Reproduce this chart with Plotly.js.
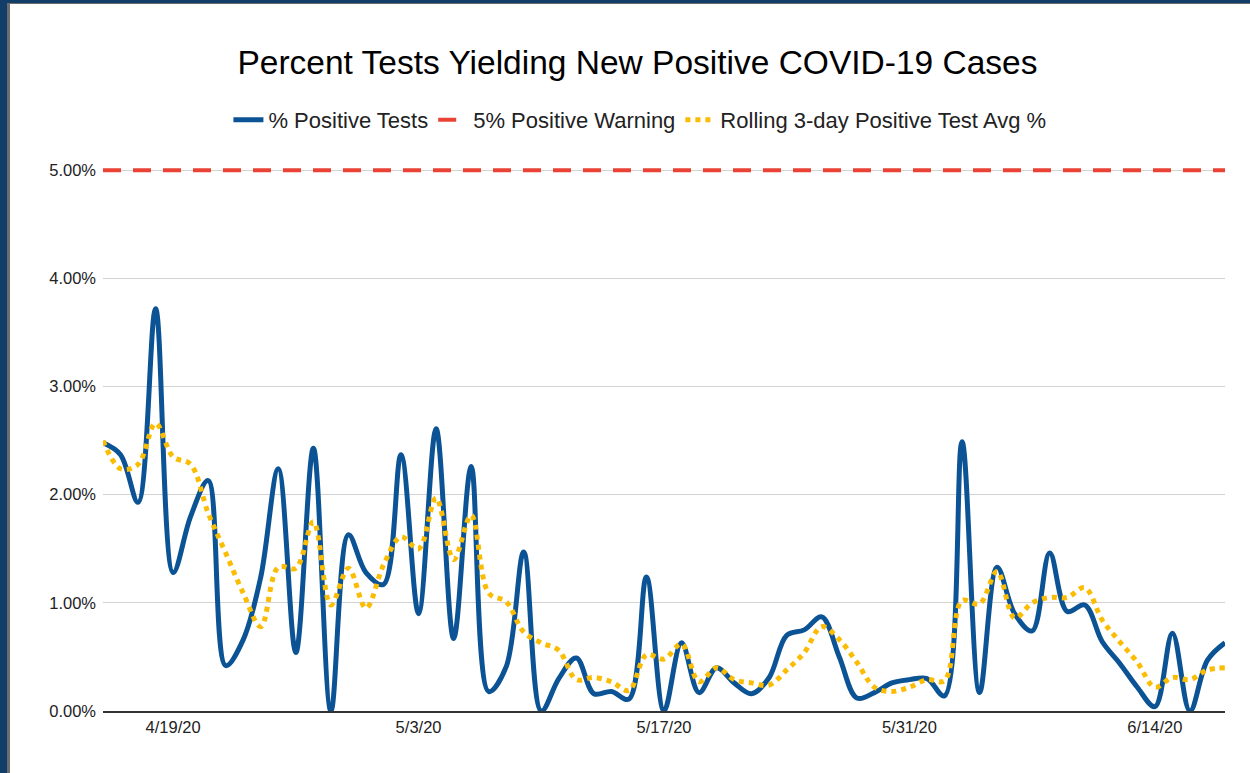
<!DOCTYPE html>
<html>
<head>
<meta charset="utf-8">
<script src="https://cdn.plot.ly/plotly-3.0.1.min.js"></script>
<style>
  html, body { margin: 0; padding: 0; background: #ffffff; }
  #frame { width: 1243px; height: 770px; border-left: 7px solid #123d68; border-top: 3px solid #123d68; }
  #chart { width: 1240px; height: 769px; border-left: 3px solid #6d6d6d; border-top: 1px solid #6d6d6d; }
</style>
</head>
<body>
<div id="frame"><div id="chart"></div></div>
<script>
// one point per day, 4/15/20 .. 6/18/20
let dates = [
  '2020-04-15','2020-04-16','2020-04-17','2020-04-18','2020-04-19','2020-04-20','2020-04-21','2020-04-22',
  '2020-04-23','2020-04-24','2020-04-25','2020-04-26','2020-04-27','2020-04-28','2020-04-29','2020-04-30',
  '2020-05-01','2020-05-02','2020-05-03','2020-05-04','2020-05-05','2020-05-06','2020-05-07','2020-05-08',
  '2020-05-09','2020-05-10','2020-05-11','2020-05-12','2020-05-13','2020-05-14','2020-05-15','2020-05-16',
  '2020-05-17','2020-05-18','2020-05-19','2020-05-20','2020-05-21','2020-05-22','2020-05-23','2020-05-24',
  '2020-05-25','2020-05-26','2020-05-27','2020-05-28','2020-05-29','2020-05-30','2020-05-31','2020-06-01',
  '2020-06-02','2020-06-03','2020-06-04','2020-06-05','2020-06-06','2020-06-07','2020-06-08','2020-06-09',
  '2020-06-10','2020-06-11','2020-06-12','2020-06-13','2020-06-14','2020-06-15','2020-06-16','2020-06-17',
  '2020-06-18'
];

// % positive tests per day
let pctPositive = [
  2.48, 2.37, 1.93, 3.72, 1.28, 1.80, 2.13, 0.42, 0.66, 1.24, 2.24, 0.54, 2.43, 0.00, 1.63, 1.28,
  1.17, 2.37, 0.90, 2.61, 0.67, 2.26, 0.18, 0.41, 1.47, 0.00, 0.30, 0.49, 0.16, 0.18, 0.11, 1.24,
  0.00, 0.63, 0.17, 0.40, 0.26, 0.16, 0.31, 0.70, 0.75, 0.87, 0.50, 0.12, 0.17, 0.26, 0.29, 0.30,
  0.14, 2.49, 0.17, 1.33, 0.90, 0.74, 1.46, 0.92, 0.98, 0.64, 0.44, 0.22, 0.04, 0.72, 0.00, 0.47,
  0.63
];

// rolling 3-day average %
let rollingAvg = [
  2.50, 2.24, 2.28, 2.66, 2.35, 2.28, 1.83, 1.46, 1.09, 0.78, 1.33, 1.32, 1.75, 0.98, 1.32, 0.95,
  1.35, 1.61, 1.50, 1.97, 1.40, 1.81, 1.09, 1.01, 0.73, 0.63, 0.56, 0.29, 0.31, 0.27, 0.19, 0.52,
  0.48, 0.62, 0.27, 0.40, 0.29, 0.26, 0.24, 0.38, 0.54, 0.78, 0.66, 0.45, 0.22, 0.18, 0.22, 0.29,
  0.28, 1.02, 0.99, 1.29, 0.86, 1.00, 1.05, 1.05, 1.14, 0.84, 0.64, 0.45, 0.22, 0.31, 0.29, 0.38,
  0.40
];

let warningLevel = 5;

let tickDates = ['2020-04-19', '2020-05-03', '2020-05-17', '2020-05-31', '2020-06-14'];
let tickLabels = ['4/19/20', '5/3/20', '5/17/20', '5/31/20', '6/14/20'];
let yTicks = [0, 1, 2, 3, 4, 5];
let yTickLabels = ['0.00%', '1.00%', '2.00%', '3.00%', '4.00%', '5.00%'];

let font = 'Arial, "Liberation Sans", sans-serif';

let positiveTrace = {
  x: dates,
  y: pctPositive,
  name: '% Positive Tests',
  mode: 'lines',
  type: 'scatter',
  line: { color: '#0b5394', width: 5, shape: 'spline', smoothing: 1 }
};

let warningTrace = {
  x: [dates[0], dates[dates.length - 1]],
  y: [warningLevel, warningLevel],
  name: '5% Positive Warning',
  mode: 'lines',
  type: 'scatter',
  line: { color: '#ea4335', width: 4, dash: '18px,12px' }
};

let rollingTrace = {
  x: dates,
  y: rollingAvg,
  name: 'Rolling 3-day Positive Test Avg %',
  mode: 'lines',
  type: 'scatter',
  line: { color: '#fbbc04', width: 5, dash: '5px,5px', shape: 'spline', smoothing: 1 }
};

let layout = {
  width: 1240,
  height: 769,
  paper_bgcolor: '#ffffff',
  plot_bgcolor: '#ffffff',
  margin: { l: 93, r: 25, t: 163, b: 62 },
  font: { family: font, color: '#222222', size: 16 },
  title: {
    text: 'Percent Tests Yielding New Positive COVID-19 Cases',
    font: { family: font, size: 33.5, color: '#000000' },
    x: 0.506, xanchor: 'center',
    yref: 'container', y: 1 - 58 / 769, yanchor: 'middle'
  },
  showlegend: true,
  legend: {
    orientation: 'h',
    x: 0.508, xanchor: 'center', xref: 'container',
    yref: 'container', y: 1 - 116 / 769, yanchor: 'middle',
    font: { family: font, size: 22, color: '#222222' },
    traceorder: 'normal'
  },
  xaxis: {
    type: 'date',
    range: [dates[0], dates[dates.length - 1]],
    tickvals: tickDates,
    ticktext: tickLabels,
    showgrid: false,
    zeroline: false,
    showline: true,
    linecolor: '#333333',
    linewidth: 2,
    ticks: '',
    tickfont: { family: font, size: 16.5, color: '#222222' }
  },
  yaxis: {
    range: [0, 5.03],
    tickvals: yTicks,
    ticktext: yTickLabels,
    showgrid: true,
    gridcolor: '#d3d3d3',
    gridwidth: 1,
    zeroline: false,
    ticks: '',
    ticklabelstandoff: 6,
    tickfont: { family: font, size: 16.5, color: '#222222' }
  }
};

Plotly.newPlot('chart', [positiveTrace, warningTrace, rollingTrace], layout, { displayModeBar: false, staticPlot: true });
</script>
</body>
</html>
